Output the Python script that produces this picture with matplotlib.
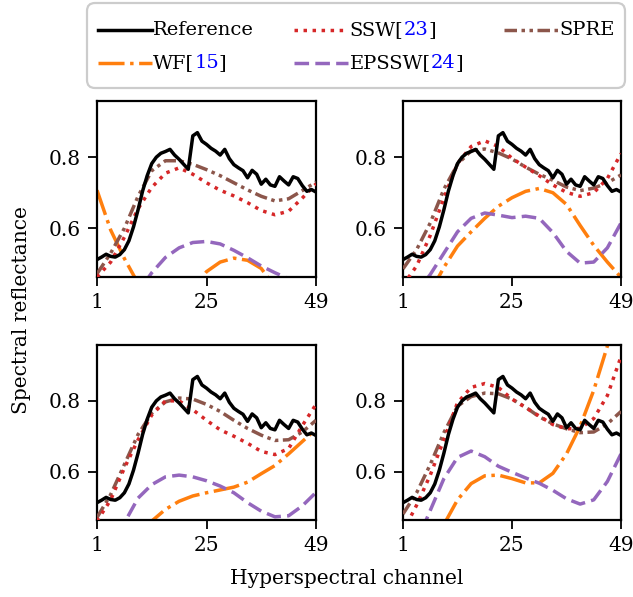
import numpy as np
import matplotlib
matplotlib.use("Agg")
import matplotlib.pyplot as plt
from matplotlib.offsetbox import DrawingArea, TextArea, HPacker, VPacker, AnchoredOffsetbox
from matplotlib.lines import Line2D

plt.rcParams['font.family'] = ['DejaVu Serif']
FS = 14.5
LFS = 14

# ---------------- data ----------------
channels = np.arange(1, 50)
sample_ch = np.arange(1, 50, 3)   # channels at which model curves were read

reference = [0.512, 0.519, 0.527, 0.521, 0.519, 0.526, 0.540, 0.565, 0.604, 0.652,
             0.705, 0.748, 0.782, 0.800, 0.811, 0.816, 0.822, 0.806, 0.794, 0.780,
             0.766, 0.860, 0.869, 0.845, 0.836, 0.825, 0.817, 0.806, 0.822, 0.796,
             0.779, 0.770, 0.762, 0.742, 0.763, 0.752, 0.724, 0.738, 0.722, 0.718,
             0.745, 0.733, 0.722, 0.745, 0.740, 0.720, 0.704, 0.709, 0.702]

# panel 1 (top-left)
ssw_1   = [0.463, 0.505, 0.575, 0.655, 0.715, 0.755, 0.770, 0.752, 0.728, 0.707, 0.691, 0.672, 0.650, 0.638, 0.648, 0.685, 0.725]
spre_1  = [0.472, 0.530, 0.600, 0.690, 0.762, 0.790, 0.790, 0.780, 0.765, 0.748, 0.728, 0.708, 0.690, 0.677, 0.683, 0.706, 0.730]
wf_1    = [0.707, 0.595, 0.515, 0.445, 0.390, 0.360, 0.370, 0.430, 0.478, 0.505, 0.516, 0.510, 0.487, 0.435, 0.370, 0.300, 0.250]
epssw_1 = [0.250, 0.300, 0.360, 0.420, 0.475, 0.518, 0.545, 0.560, 0.563, 0.556, 0.538, 0.517, 0.494, 0.475, 0.458, 0.440, 0.420]

# panel 2 (top-right)
ssw_2   = [0.440, 0.494, 0.580, 0.685, 0.782, 0.830, 0.846, 0.830, 0.797, 0.772, 0.748, 0.722, 0.701, 0.690, 0.700, 0.740, 0.810]
spre_2  = [0.486, 0.540, 0.615, 0.710, 0.780, 0.818, 0.823, 0.812, 0.795, 0.772, 0.752, 0.735, 0.716, 0.706, 0.713, 0.728, 0.750]
wf_2    = [0.330, 0.370, 0.420, 0.490, 0.550, 0.590, 0.628, 0.662, 0.686, 0.704, 0.712, 0.700, 0.667, 0.608, 0.552, 0.505, 0.462]
epssw_2 = [0.370, 0.420, 0.470, 0.530, 0.590, 0.628, 0.643, 0.637, 0.630, 0.634, 0.628, 0.588, 0.535, 0.502, 0.505, 0.545, 0.615]

# panel 3 (bottom-left)
ssw_3   = [0.460, 0.520, 0.610, 0.690, 0.760, 0.800, 0.800, 0.775, 0.745, 0.718, 0.700, 0.680, 0.657, 0.648, 0.665, 0.730, 0.790]
spre_3  = [0.470, 0.535, 0.620, 0.705, 0.765, 0.797, 0.808, 0.805, 0.790, 0.770, 0.745, 0.722, 0.703, 0.688, 0.690, 0.712, 0.745]
wf_3    = [0.250, 0.310, 0.370, 0.415, 0.460, 0.493, 0.516, 0.531, 0.540, 0.548, 0.556, 0.570, 0.594, 0.617, 0.650, 0.685, 0.720]
epssw_3 = [0.320, 0.390, 0.455, 0.525, 0.563, 0.585, 0.590, 0.585, 0.574, 0.559, 0.540, 0.512, 0.488, 0.472, 0.475, 0.503, 0.541]

# panel 4 (bottom-right)
ssw_4   = [0.430, 0.505, 0.590, 0.690, 0.795, 0.838, 0.849, 0.838, 0.805, 0.781, 0.757, 0.733, 0.721, 0.722, 0.750, 0.815, 0.925]
spre_4  = [0.480, 0.540, 0.620, 0.710, 0.785, 0.812, 0.822, 0.820, 0.805, 0.782, 0.755, 0.735, 0.721, 0.710, 0.712, 0.735, 0.770]
wf_4    = [0.250, 0.320, 0.385, 0.450, 0.520, 0.566, 0.588, 0.590, 0.580, 0.568, 0.568, 0.595, 0.650, 0.728, 0.830, 0.955, 1.100]
epssw_4 = [0.330, 0.400, 0.490, 0.580, 0.640, 0.658, 0.642, 0.615, 0.598, 0.582, 0.567, 0.547, 0.523, 0.508, 0.520, 0.572, 0.650]

panels = [
    (ssw_1, spre_1, wf_1, epssw_1),
    (ssw_2, spre_2, wf_2, epssw_2),
    (ssw_3, spre_3, wf_3, epssw_3),
    (ssw_4, spre_4, wf_4, epssw_4),
]

x_ticks = [1, 25, 49]
y_ticks = [0.6, 0.8]
y_tick_labels = ['0.6', '0.8']

# ---------------- styles ----------------
LW = 2.5
st_ref = dict(color='black', lw=LW, ls='-')
st_ssw = dict(color='#d62728', lw=LW, ls=(0, (1, 1.6)))
st_spre = dict(color='#8c564b', lw=LW, ls=(0, (3.6, 1.3, 1, 1.3, 1, 1.3)))
st_wf = dict(color='#ff7f0e', lw=LW, ls=(0, (7.5, 1.6, 1, 1.6)))
st_eps = dict(color='#9467bd', lw=LW, ls=(0, (4.2, 1.8)))

W, H = 633, 597
fig = plt.figure(figsize=(W / 100, H / 100), dpi=100)

def rect(l, r, t, b):
    return [l / W, 1 - b / H, (r - l) / W, (b - t) / H]

rects = [rect(97, 316, 101, 277), rect(403, 621, 101, 277),
         rect(97, 316, 345, 520), rect(403, 621, 345, 520)]

for rc, (ssw, spre, wf, eps) in zip(rects, panels):
    ax = fig.add_axes(rc)
    ax.plot(sample_ch, wf, **st_wf, zorder=2)
    ax.plot(sample_ch, eps, **st_eps, zorder=2)
    ax.plot(sample_ch, spre, **st_spre, zorder=3)
    ax.plot(sample_ch, ssw, **st_ssw, zorder=4)
    ax.plot(channels, reference, **st_ref, zorder=5)
    ax.set_xlim(1, 49)
    ax.set_ylim(0.463, 0.958)
    ax.set_xticks(x_ticks)
    ax.set_xticklabels([str(v) for v in x_ticks])
    ax.set_yticks(y_ticks)
    ax.set_yticklabels(y_tick_labels)
    ax.tick_params(labelsize=FS, length=6.5, width=1.3, direction='out', pad=5)
    for s in ax.spines.values():
        s.set_linewidth(1.6)

fig.text(347 / W, 1 - 578 / H, 'Hyperspectral channel', ha='center', va='center', fontsize=FS)
fig.text(22 / W, 1 - 310 / H, 'Spectral reflectance', ha='center', va='center',
         rotation=90, fontsize=FS)

# ---------------- legend with coloured citations ----------------
def entry(style, parts):
    da = DrawingArea(39, 12, 0, 0)
    da.add_artist(Line2D([0, 39], [6, 6], **style))
    tas = [TextArea(t, textprops=dict(color=c, fontsize=LFS)) for t, c in parts]
    txt = HPacker(children=tas, pad=0, sep=0, align='baseline')
    return HPacker(children=[da, txt], pad=0, sep=1, align='center')

BLUE = '#0000ff'
RSEP = 11
col1 = VPacker(children=[entry(st_ref, [('Reference', 'black')]),
                         entry(st_wf, [('WF[', 'black'), ('15', BLUE), (']', 'black')])],
               pad=0, sep=RSEP, align='left')
col2 = VPacker(children=[entry(st_ssw, [('SSW[', 'black'), ('23', BLUE), (']', 'black')]),
                         entry(st_eps, [('EPSSW[', 'black'), ('24', BLUE), (']', 'black')])],
               pad=0, sep=RSEP, align='left')
col3 = VPacker(children=[entry(st_spre, [('SPRE', 'black')]),
                         TextArea(' ', textprops=dict(fontsize=LFS))],
               pad=0, sep=RSEP, align='left')
grid = HPacker(children=[col1, col2, col3], pad=0, sep=29, align='top')
boxed = VPacker(children=[DrawingArea(1, 5, 0, 0), grid, DrawingArea(1, 4, 0, 0)],
                pad=0, sep=0, align='center')
anch = AnchoredOffsetbox(loc='upper center', child=boxed, pad=0.55, borderpad=0,
                         frameon=True, bbox_to_anchor=(356 / W, 1 - 3 / H),
                         bbox_transform=fig.transFigure, prop=dict(size=LFS))
anch.patch.set_boxstyle('round,pad=0,rounding_size=0.4')
anch.patch.set_edgecolor('#cccccc')
anch.patch.set_linewidth(1.6)
fig.add_artist(anch)

fig.savefig('out.png', dpi=100)
